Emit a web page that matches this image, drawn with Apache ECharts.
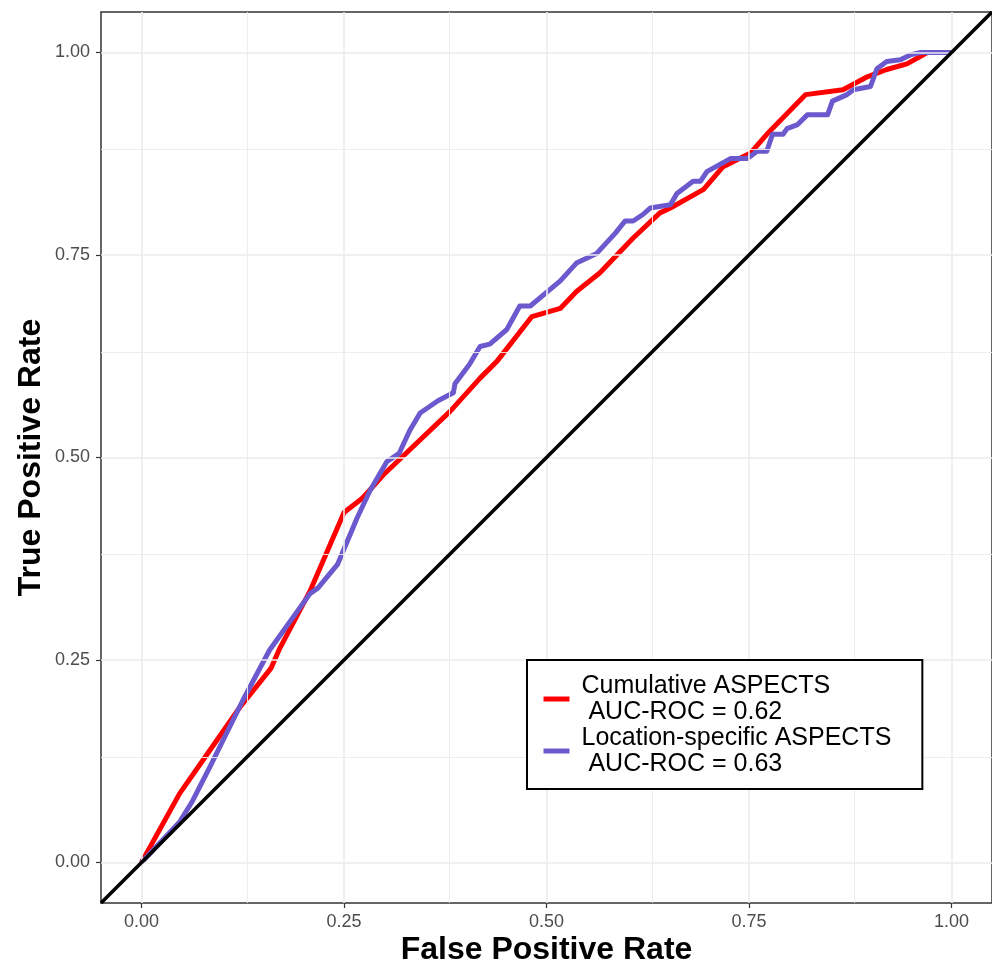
<!DOCTYPE html>
<html>
<head>
<meta charset="utf-8">
<title>ROC</title>
<script src="https://cdn.jsdelivr.net/npm/echarts@6/dist/echarts.min.js"></script>
<style>
  * { margin: 0; padding: 0; }
  html, body { background: #fff; }
  #main { width: 992px; height: 963px; }
</style>
</head>
<body>
<div id="main"></div>
<script>
// values
var cumX = [0, 0.047, 0.084, 0.121, 0.16, 0.171, 0.208, 0.25, 0.273, 0.30, 0.381, 0.418, 0.439, 0.482, 0.517, 0.537, 0.566, 0.607, 0.64, 0.653, 0.694, 0.718, 0.752, 0.772, 0.82, 0.866, 0.896, 0.92, 0.945, 0.97, 1];
var cumY = [0, 0.085, 0.138, 0.191, 0.24, 0.265, 0.335, 0.432, 0.45, 0.48, 0.557, 0.598, 0.619, 0.674, 0.684, 0.705, 0.728, 0.771, 0.802, 0.808, 0.831, 0.859, 0.876, 0.899, 0.948, 0.954, 0.97, 0.979, 0.986, 1.0, 1];

var locX = [0, 0.047, 0.063, 0.084, 0.125, 0.158, 0.208, 0.218, 0.242, 0.266, 0.282, 0.303, 0.318, 0.331, 0.344, 0.366, 0.385, 0.387, 0.405, 0.418, 0.43, 0.451, 0.467, 0.48, 0.517, 0.537, 0.562, 0.585, 0.597, 0.607, 0.619, 0.628, 0.653, 0.661, 0.681, 0.69, 0.698, 0.727, 0.748, 0.76, 0.772, 0.779, 0.792, 0.797, 0.81, 0.822, 0.847, 0.853, 0.871, 0.879, 0.9, 0.908, 0.92, 0.937, 0.949, 0.962, 1];
var locY = [0, 0.05, 0.076, 0.117, 0.2, 0.262, 0.332, 0.339, 0.368, 0.425, 0.459, 0.495, 0.505, 0.533, 0.555, 0.57, 0.58, 0.591, 0.615, 0.637, 0.64, 0.658, 0.687, 0.687, 0.718, 0.74, 0.752, 0.777, 0.792, 0.792, 0.8, 0.808, 0.812, 0.826, 0.841, 0.841, 0.853, 0.869, 0.869, 0.878, 0.878, 0.899, 0.899, 0.906, 0.911, 0.923, 0.923, 0.94, 0.948, 0.954, 0.958, 0.98, 0.989, 0.991, 0.997, 1.0, 1];

var diagX = [-0.05, 1.05];
var diagY = [-0.05, 1.05];

var tickVals = [0, 0.25, 0.5, 0.75, 1];
var minorVals = [0.125, 0.375, 0.625, 0.875];

var names = ['Cumulative ASPECTS\n AUC-ROC = 0.62', 'Location-specific ASPECTS\n AUC-ROC = 0.63'];

function zip(xs, ys) {
    var out = [];
    for (var i = 0; i < xs.length; i++) out.push([xs[i], ys[i]]);
    return out;
}

var gridLines = [];
tickVals.forEach(function (v) {
    gridLines.push({ xAxis: v, lineStyle: { width: 1.6 } });
    gridLines.push({ yAxis: v, lineStyle: { width: 1.6 } });
});
minorVals.forEach(function (v) {
    gridLines.push({ xAxis: v, lineStyle: { width: 0.9 } });
    gridLines.push({ yAxis: v, lineStyle: { width: 0.9 } });
});

var axisCommon = {
    type: 'value',
    min: -0.05,
    max: 1.05,
    nameLocation: 'middle',
    nameMoveOverlap: false,
    nameTextStyle: { fontFamily: 'Liberation Sans', fontSize: 32, fontWeight: 'bold', color: '#000' },
    axisLine: { show: false, onZero: false },
    axisTick: { show: true, length: 5, customValues: tickVals, lineStyle: { color: '#333', width: 1.2 } },
    axisLabel: {
        customValues: tickVals,
        fontFamily: 'Liberation Sans', fontSize: 18, color: '#4d4d4d',
        formatter: function (v) { return v.toFixed(2); }
    },
    splitLine: { show: false }
};

var chart = echarts.init(document.getElementById('main'));
chart.setOption({
    animation: false,
    grid: {
        left: 101, right: 0, top: 12, bottom: 60,
        outerBoundsMode: 'none', containLabel: false,
        show: true, borderColor: '#333', borderWidth: 1.5, backgroundColor: '#fff'
    },
    xAxis: Object.assign({}, axisCommon, {
        name: 'False Positive Rate', nameGap: 31,
        axisLabel: Object.assign({}, axisCommon.axisLabel, { margin: 10 })
    }),
    yAxis: Object.assign({}, axisCommon, {
        name: 'True Positive Rate', nameGap: 54,
        axisLabel: Object.assign({}, axisCommon.axisLabel, { margin: 11 })
    }),
    legend: {
        z: 20,
        orient: 'vertical',
        left: 527, top: 660,
        padding: [13, 31, 12, 14],
        itemGap: 0,
        itemWidth: 26, itemHeight: 5,
        lineStyle: { width: 5 },
        backgroundColor: '#fff',
        borderColor: '#000', borderWidth: 2, borderRadius: 0,
        data: names,
        textStyle: { fontFamily: 'Liberation Sans', fontSize: 25, lineHeight: 26, color: '#000', padding: [0, 0, 0, 7] }
    },
    series: [
        {
            type: 'line', data: [], z: 1, silent: true,
            markLine: {
                silent: true, symbol: 'none', animation: false,
                label: { show: false },
                lineStyle: { color: '#ebebeb', type: 'solid' },
                data: gridLines
            }
        },
        {
            name: names[0], type: 'line', data: zip(cumX, cumY), z: 3,
            symbol: 'none', showSymbol: false, color: '#ff0000',
            lineStyle: { width: 5, color: '#ff0000', join: 'round' }
        },
        {
            name: names[1], type: 'line', data: zip(locX, locY), z: 4,
            symbol: 'none', showSymbol: false, color: '#6a5acd',
            lineStyle: { width: 5, color: '#6a5acd', join: 'round' }
        },
        {
            type: 'line', data: zip(diagX, diagY), z: 5,
            symbol: 'none', showSymbol: false, color: '#000',
            lineStyle: { width: 3.5, color: '#000' }
        }
    ]
});
</script>
</body>
</html>
